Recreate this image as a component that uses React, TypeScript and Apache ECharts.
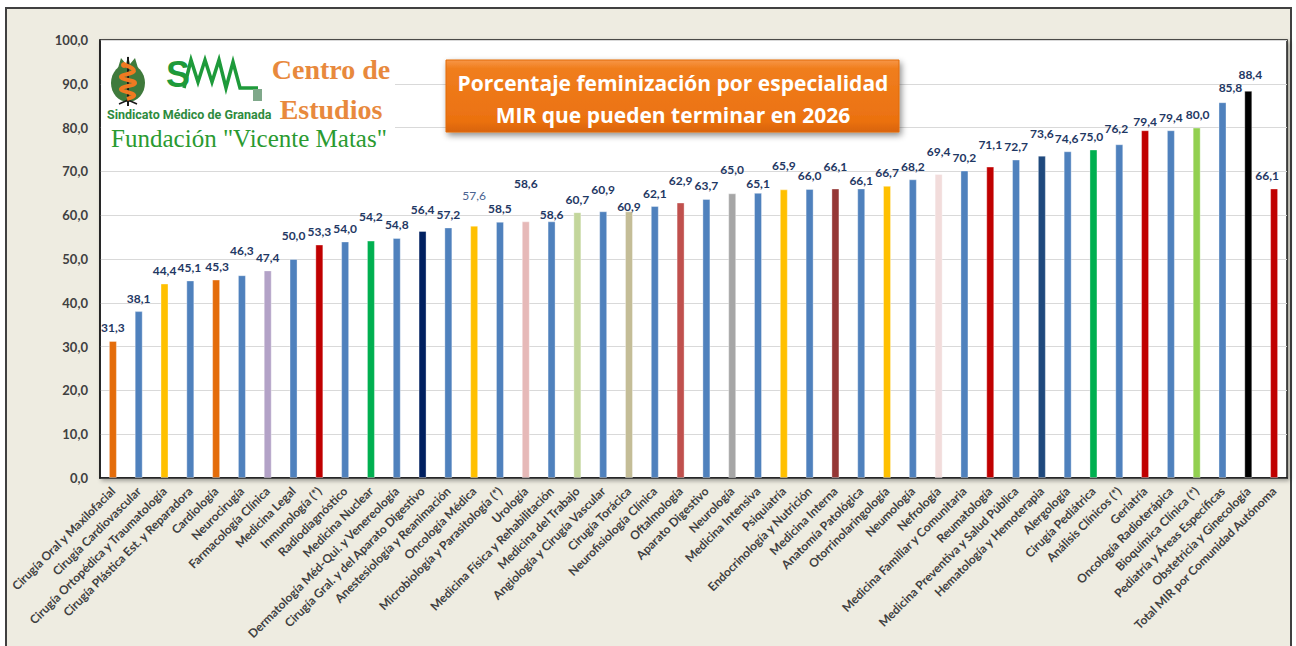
import React, { useEffect, useRef } from "react";
import * as echarts from "echarts";

const categories = [
  "Cirugía Oral y Maxilofacial",
  "Cirugía Cardiovascular",
  "Cirugía Ortopédica y Traumatología",
  "Cirugía Plástica Est. y Reparadora",
  "Cardiología",
  "Neurocirugía",
  "Farmacología Clínica",
  "Medicina Legal",
  "Inmunología (*)",
  "Radiodiagnóstico",
  "Medicina Nuclear",
  "Dermatología Méd-Qui. y Venereología",
  "Cirugía Gral. y del Aparato Digestivo",
  "Anestesiología y Reanimación",
  "Oncología Médica",
  "Microbiología y Parasitología (*)",
  "Urología",
  "Medicina Física y Rehabilitación",
  "Medicina del Trabajo",
  "Angiología y Cirugía Vascular",
  "Cirugía Torácica",
  "Neurofisiología Clínica",
  "Oftalmología",
  "Aparato Digestivo",
  "Neurología",
  "Medicina Intensiva",
  "Psiquiatría",
  "Endocrinología y Nutrición",
  "Medicina Interna",
  "Anatomía Patológica",
  "Otorrinolaringología",
  "Neumología",
  "Nefrología",
  "Medicina Familiar y Comunitaria",
  "Reumatología",
  "Medicina Preventiva y Salud Pública",
  "Hematología y Hemoterapia",
  "Alergología",
  "Cirugía Pediátrica",
  "Análisis Clínicos (*)",
  "Geriatría",
  "Oncología Radioterápica",
  "Bioquímica Clínica (*)",
  "Pediatría y Áreas Específicas",
  "Obstetricia y Ginecología",
  "Total MIR por Comunidad Autónoma",
];

const values = [
  31.3, 38.1, 44.4, 45.1, 45.3, 46.3, 47.4, 50.0, 53.3, 54.0, 54.2, 54.8,
  56.4, 57.2, 57.6, 58.5, 58.6, 58.6, 60.7, 60.9, 60.9, 62.1, 62.9, 63.7,
  65.0, 65.1, 65.9, 66.0, 66.1, 66.1, 66.7, 68.2, 69.4, 70.2, 71.1, 72.7,
  73.6, 74.6, 75.0, 76.2, 79.4, 79.4, 80.0, 85.8, 88.4, 66.1,
];

const yTicks = [0, 10, 20, 30, 40, 50, 60, 70, 80, 90, 100];

const B = "#4F81BD";
const barColors = [
  "#E46C0A", B, "#FFC000", B, "#E46C0A", B, "#B3A2C7", B, "#C00000", B,
  "#00B050", B, "#002060", B, "#FFC000", B, "#E6B9B8", B, "#C3D69B", B,
  "#C4BD97", B, "#C0504D", B, "#A6A6A6", B, "#FFC000", B, "#953735", B,
  "#FFC000", B, "#F2DCDB", B, "#C00000", B, "#1F497D", B, "#00B050", B,
  "#C00000", B, "#92D050", B, "#000000", "#C00000",
];

// label nudges [dx, dy] in px, mimicking the reference's manual label placement
const labelNudges: [number, number][] = [
  [0, 0], [0, 0], [0, 0], [-1, 0], [1, 0], [0, -12], [0, 0], [0, -11], [0, 0], [0, 0],
  [0, -11], [0, 0], [0, -8], [0, 0], [0, -17], [0, 0], [0, -25], [0, 6], [0, 0], [0, -9],
  [0, 8], [0, 0], [0, -9], [0, 0], [0, -11], [0, 4], [0, -11], [0, 0], [0, -9], [0, 5],
  [0, 0], [0, 0], [0, -10], [0, 0], [0, -9], [0, 0], [0, -9], [-1, 0], [-2, 0], [-3, -3],
  [0, 4], [0, 0], [1, 0], [8, -2], [2, -3], [-7, 0],
];

const fmt = (v: number) => v.toFixed(1).replace(".", ",");

export default function App() {
  const ref = useRef<HTMLDivElement>(null);

  useEffect(() => {
    if (!ref.current) return;
    const chart = echarts.init(ref.current, undefined, { renderer: "svg" });

    const data = values.map((v, i) => {
      const label: any = { offset: labelNudges[i] };
      if (categories[i] === "Oncología Médica") {
        label.fontWeight = "normal";
        label.color = "#4A6390";
      }
      return { value: v, itemStyle: { color: barColors[i] }, label };
    });

    const txt = (
      text: string,
      x: number,
      y: number,
      font: string,
      fill: string,
      align = "left"
    ) => ({
      type: "text",
      x,
      y,
      z: 6,
      style: {
        text,
        font,
        fill,
        textAlign: align,
        align,
        textVerticalAlign: "middle",
        verticalAlign: "middle",
      },
    });

    chart.setOption({
      animation: false,
      backgroundColor: "transparent",
      grid: {
        left: 100,
        top: 40,
        width: 1187,
        height: 438,
        show: true,
        backgroundColor: "#FFFFFF",
        borderColor: "#1A1A1A",
        borderWidth: 1.5,
        shadowColor: "rgba(0,0,0,0.35)",
        shadowBlur: 4,
        shadowOffsetX: 2,
        shadowOffsetY: 2,
      },
      xAxis: {
        type: "category",
        data: categories,
        axisLine: { show: true, lineStyle: { color: "#1A1A1A", width: 1.5 } },
        axisTick: { show: false },
        axisLabel: {
          interval: 0,
          rotate: 45,
          margin: 11,
          color: "#404040",
          fontFamily: "Lato",
          fontWeight: "bold",
          fontSize: 12,
        },
      },
      yAxis: {
        type: "value",
        min: yTicks[0],
        max: yTicks[yTicks.length - 1],
        interval: 10,
        axisLine: { show: true, lineStyle: { color: "#1A1A1A", width: 1.5 } },
        axisTick: { show: false },
        splitLine: { lineStyle: { color: "#D9D9D9", width: 1 } },
        axisLabel: {
          margin: 12,
          color: "#404040",
          fontFamily: "Lato",
          fontWeight: "bold",
          fontSize: 13,
          formatter: (v: number) => fmt(v),
        },
      },
      series: [
        {
          type: "bar",
          data,
          barWidth: 8,
          itemStyle: { borderColor: "rgba(255,255,255,0.35)", borderWidth: 1 },
          label: {
            show: true,
            position: "top",
            distance: 7,
            color: "#1F3864",
            fontFamily: "Lato",
            fontWeight: "bold",
            fontSize: 12,
            formatter: (p: any) => fmt(p.value),
          },
        },
      ],
      graphic: [
        // white panel behind the logo (hides gridlines)
        { type: "rect", z: 5, shape: { x: 101, y: 41, width: 294, height: 110 }, style: { fill: "#FFFFFF" } },
        // pomegranate
        { type: "ellipse", z: 6, shape: { cx: 128, cy: 83, rx: 17, ry: 19 }, style: { fill: "#3F7A3C" } },
        { type: "polygon", z: 6, shape: { points: [[118, 68], [121, 58], [126, 64], [128, 56], [130, 64], [135, 58], [138, 68]] }, style: { fill: "#3F7A3C" } },
        { type: "line", z: 7, shape: { x1: 128, y1: 57, x2: 128, y2: 106 }, style: { stroke: "#1A1A1A", lineWidth: 2 } },
        { type: "line", z: 7, shape: { x1: 119, y1: 104, x2: 128, y2: 100 }, style: { stroke: "#1A1A1A", lineWidth: 1.5 } },
        { type: "line", z: 7, shape: { x1: 137, y1: 104, x2: 128, y2: 100 }, style: { stroke: "#1A1A1A", lineWidth: 1.5 } },
        {
          type: "polyline",
          z: 8,
          shape: { points: [[125, 65], [134, 71], [121, 77], [135, 83], [121, 89], [134, 95], [127, 99]], smooth: 0.5 },
          style: { stroke: "#F07A22", lineWidth: 4, fill: "none" },
        },
        { type: "circle", z: 8, shape: { cx: 124, cy: 65, r: 3 }, style: { fill: "#F07A22" } },
        // SMA mark
        txt("S", 166, 74, "bold 36px 'Liberation Sans Narrow', 'Liberation Sans', sans-serif", "#1E9A3A"),
        {
          type: "polyline",
          z: 6,
          shape: { points: [[184, 88], [191, 60], [198, 82], [205, 60], [212, 82], [219, 60], [226, 88], [233, 62], [240, 88], [258, 88]] },
          style: { stroke: "#1E9A3A", lineWidth: 3.5, fill: "none" },
        },
        { type: "rect", z: 6, shape: { x: 253, y: 89, width: 9, height: 12 }, style: { fill: "#7FA88A" } },
        txt("Sindicato Médico de Granada", 107, 114, "bold 12.5px 'Liberation Sans Narrow', Roboto, sans-serif", "#2E8B3E"),
        txt("Centro de", 331, 69, "bold 28px 'Liberation Serif', 'DejaVu Serif', serif", "#E8893D", "center"),
        txt("Estudios", 331, 109, "bold 28px 'Liberation Serif', 'DejaVu Serif', serif", "#E8893D", "center"),
        txt("Fundación \"Vicente Matas\"", 249, 138, "25px 'Liberation Serif', serif", "#2A9A30", "center"),
        // title box
        {
          type: "rect",
          z: 6,
          shape: { x: 446, y: 60, width: 453, height: 72 },
          style: {
            fill: new echarts.graphic.LinearGradient(0, 0, 0, 1, [
              { offset: 0, color: "#F79646" },
              { offset: 0.12, color: "#F07E1E" },
              { offset: 0.85, color: "#EB7110" },
              { offset: 1, color: "#D8630A" },
            ]),
            stroke: "#E26B0A",
            lineWidth: 1,
            shadowBlur: 6,
            shadowColor: "rgba(0,0,0,0.45)",
            shadowOffsetX: 2,
            shadowOffsetY: 3,
          },
        },
        txt("Porcentaje feminización por especialidad", 673, 83, "bold 21px 'Open Sans', sans-serif", "#FFFFFF", "center"),
        txt("MIR que pueden terminar en 2026", 673, 115, "bold 21px 'Open Sans', sans-serif", "#FFFFFF", "center"),
      ],
    });

    return () => chart.dispose();
  }, []);

  return (
    <div style={{ position: "absolute", left: 0, top: 0, width: 1296, height: 646, overflow: "hidden", background: "#FFFFFF" }}>
      <div
        style={{
          position: "absolute",
          left: 5,
          top: 7,
          width: 1287,
          height: 680,
          boxSizing: "border-box",
          border: "2px solid #404040",
          background: "#EEECE1",
        }}
      />
      <div ref={ref} style={{ position: "absolute", left: 0, top: 0, width: 1296, height: 646 }} />
    </div>
  );
}
